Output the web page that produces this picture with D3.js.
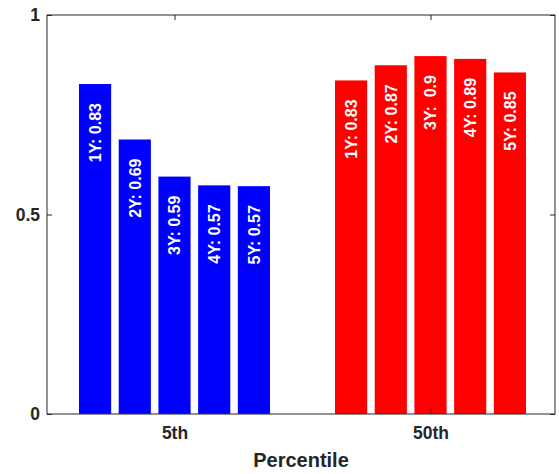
<!DOCTYPE html>
<html>
<head>
<meta charset="utf-8">
<script src="https://cdn.jsdelivr.net/npm/d3@7"></script>
<style>
  html, body { margin: 0; padding: 0; background: #fff; }
  svg { display: block; }
</style>
</head>
<body>
<svg id="chart" width="559" height="474"></svg>
<script>
// ---- data ----
const categories = ["5th", "50th"];
const horizons = ["1Y", "2Y", "3Y", "4Y", "5Y"];
const p5Values = [0.827, 0.688, 0.595, 0.573, 0.571];
const p50Values = [0.836, 0.874, 0.897, 0.890, 0.856];
const p5Labels = ["1Y: 0.83", "2Y: 0.69", "3Y: 0.59", "4Y: 0.57", "5Y: 0.57"];
const p50Labels = ["1Y: 0.83", "2Y: 0.87", "3Y:  0.9", "4Y: 0.89", "5Y: 0.85"];
const seriesColors = ["#0000ff", "#ff0000"];
const yTicks = [0, 0.5, 1];
const yTickLabels = ["0", "0.5", "1"];
const xLabel = "Percentile";

const groups = [
  { cat: categories[0], values: p5Values, labels: p5Labels, color: seriesColors[0] },
  { cat: categories[1], values: p50Values, labels: p50Labels, color: seriesColors[1] }
];

// ---- layout ----
const svg = d3.select("#chart");
const pLeft = 47, pRight = 555, pTop = 15, pBottom = 414;
const font = "'Liberation Sans', Arial, Helvetica, sans-serif";
const axisColor = "#262626";

const y = d3.scaleLinear().domain([0, 1]).range([pBottom, pTop]);
// group centers
const xGroup = d3.scalePoint().domain(categories).range([174.5, 430.5]);
// bar offsets within group
const xInner = d3.scaleBand().domain(horizons).range([-95.5, 95.5]).paddingInner(0.19).paddingOuter(0);

// bars
groups.forEach(g => {
  const gg = svg.append("g").attr("transform", `translate(${xGroup(g.cat)},0)`);
  gg.selectAll("rect").data(g.values).join("rect")
    .attr("x", (d, i) => xInner(horizons[i]))
    .attr("width", xInner.bandwidth())
    .attr("y", d => y(d))
    .attr("height", d => y(0) - y(d))
    .attr("fill", g.color);
  gg.selectAll("text").data(g.values).join("text")
    .attr("transform", (d, i) => `translate(${xInner(horizons[i]) + xInner.bandwidth() / 2},${y(d) + 19}) rotate(-90)`)
    .attr("text-anchor", "end")
    .attr("dy", "0.36em")
    .attr("fill", "#fff")
    .attr("font-family", font)
    .attr("font-weight", "bold")
    .attr("font-size", "16px")
    .style("white-space", "pre")
    .text((d, i) => g.labels[i]);
});

// box
svg.append("rect")
  .attr("x", pLeft).attr("y", pTop)
  .attr("width", pRight - pLeft).attr("height", pBottom - pTop)
  .attr("fill", "none").attr("stroke", axisColor).attr("stroke-width", 1);

// y axis
const yAxis = d3.axisLeft(y).tickValues(yTicks).tickSize(-5).tickPadding(7)
  .tickFormat((d, i) => yTickLabels[i]);
const yg = svg.append("g").attr("transform", `translate(${pLeft},0)`).call(yAxis);
yg.select(".domain").remove();
yg.selectAll("line").attr("stroke", axisColor);
yg.selectAll("text").attr("font-family", font).attr("font-weight", "bold")
  .attr("font-size", "17.5px").attr("fill", axisColor);
// right mirror ticks
const yAxisR = d3.axisRight(y).tickValues(yTicks).tickSize(-5).tickFormat("");
const yr = svg.append("g").attr("transform", `translate(${pRight},0)`).call(yAxisR);
yr.select(".domain").remove();
yr.selectAll("line").attr("stroke", axisColor);

// x axis
const xAxis = d3.axisBottom(xGroup).tickSize(-5).tickPadding(13);
const xg = svg.append("g").attr("transform", `translate(0,${pBottom})`).call(xAxis);
xg.select(".domain").remove();
xg.selectAll("line").attr("stroke", axisColor);
xg.selectAll("text").attr("font-family", font).attr("font-weight", "bold")
  .attr("font-size", "17.5px").attr("fill", axisColor);
const xAxisT = d3.axisTop(xGroup).tickSize(-5).tickFormat("");
const xt = svg.append("g").attr("transform", `translate(0,${pTop})`).call(xAxisT);
xt.select(".domain").remove();
xt.selectAll("line").attr("stroke", axisColor);

// x label
svg.append("text")
  .attr("x", (pLeft + pRight) / 2).attr("y", 467)
  .attr("text-anchor", "middle")
  .attr("font-family", font).attr("font-weight", "bold")
  .attr("font-size", "20px").attr("fill", axisColor)
  .text(xLabel);
</script>
</body>
</html>
